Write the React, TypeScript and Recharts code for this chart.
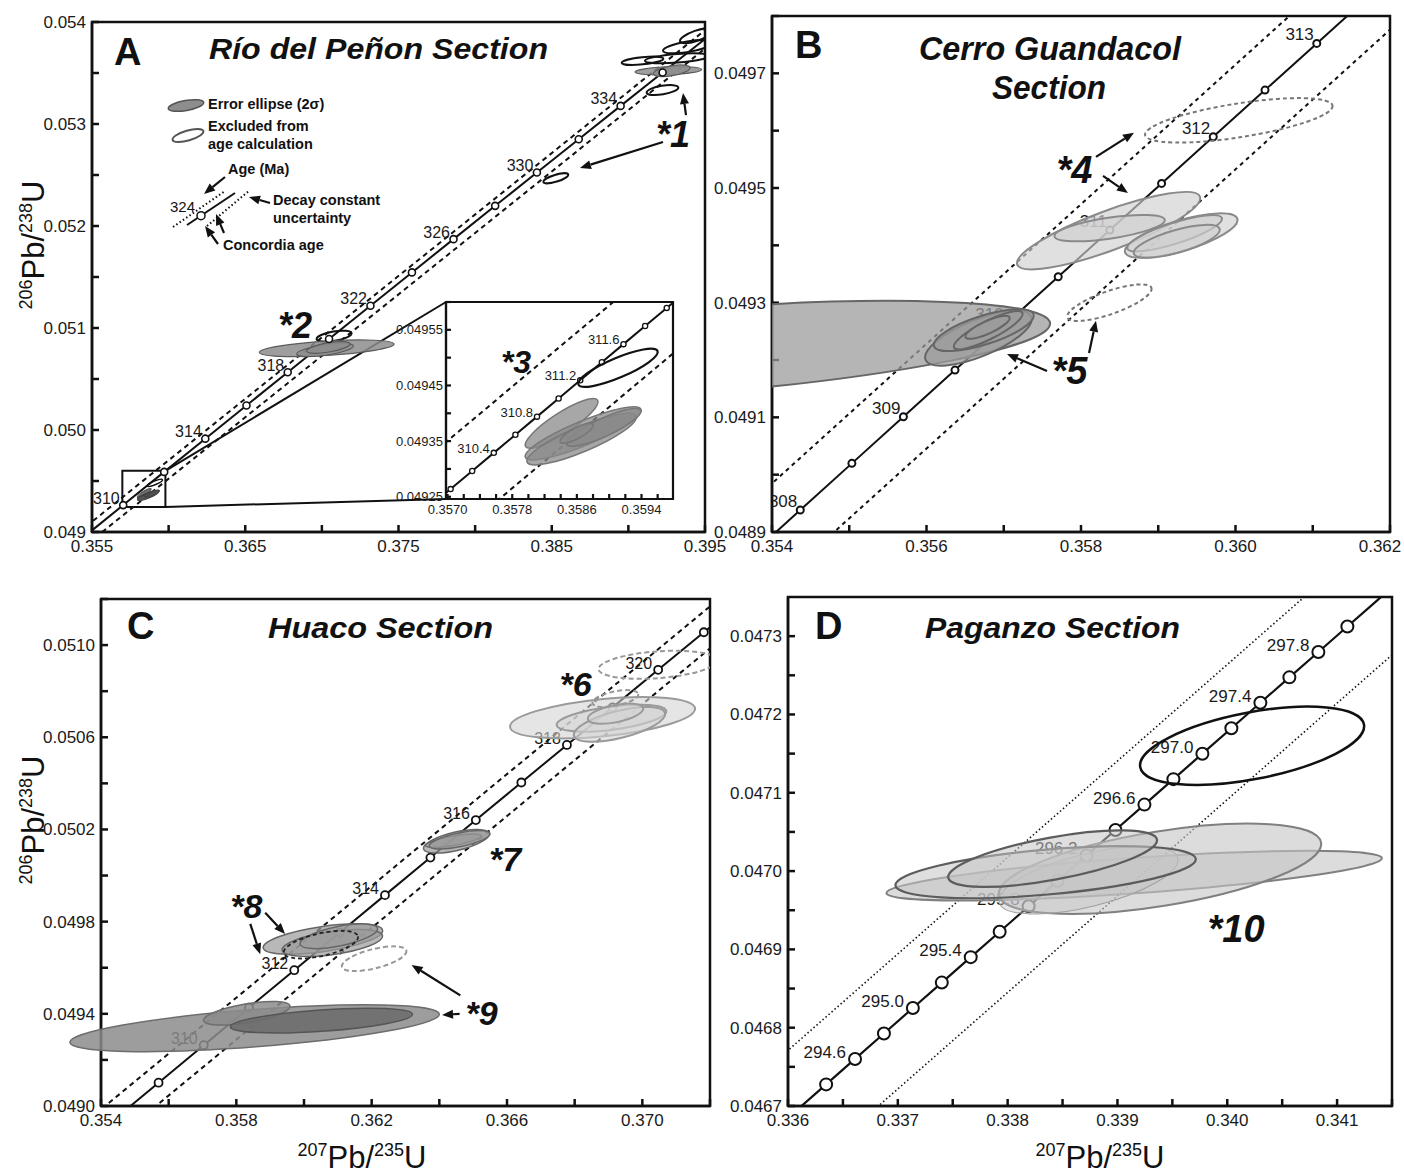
import React from "react";
import {
  ComposedChart,
  Line,
  Scatter,
  XAxis,
  YAxis,
  ReferenceArea,
  ReferenceLine,
  ReferenceDot,
} from "recharts";

const FONT = "'Liberation Sans', Arial, Helvetica, sans-serif";

type Pt = { age: number; x: number; y: number };
type Ell = { x: number; y: number; sx: number; sy: number; rho: number };
type Note = { x: number; y: number; text: string };
type Seg = { x1: number; y1: number; x2: number; y2: number };

// ---------------- Panel A: Río del Peñon ----------------
const aConcordia: Pt[] = [
  { age: 306, x: 0.351701, y: 0.0486129 },
  { age: 308, x: 0.354366, y: 0.0489383 },
  { age: 310, x: 0.357037, y: 0.0492638 },
  { age: 312, x: 0.359712, y: 0.0495894 },
  { age: 314, x: 0.362393, y: 0.049915 },
  { age: 316, x: 0.365079, y: 0.0502408 },
  { age: 318, x: 0.367771, y: 0.0505667 },
  { age: 320, x: 0.370468, y: 0.0508927 },
  { age: 322, x: 0.37317, y: 0.0512188 },
  { age: 324, x: 0.375877, y: 0.051545 },
  { age: 326, x: 0.37859, y: 0.0518713 },
  { age: 328, x: 0.381308, y: 0.0521977 },
  { age: 330, x: 0.384031, y: 0.0525242 },
  { age: 332, x: 0.38676, y: 0.0528508 },
  { age: 334, x: 0.389494, y: 0.0531775 },
  { age: 336, x: 0.392234, y: 0.0535043 },
  { age: 338, x: 0.394979, y: 0.0538312 },
  { age: 340, x: 0.397729, y: 0.0541582 },
];
const aMarkers = aConcordia.filter((p) => p.age >= 310 && p.age <= 336);
const aLabelAges = [310, 314, 318, 322, 326, 330, 334];
const aDecayLow = [
  { x: 0.350951, y: 0.0486129 },
  { x: 0.396979, y: 0.0541582 },
];
const aDecayHigh = [
  { x: 0.352451, y: 0.0486129 },
  { x: 0.398479, y: 0.0541582 },
];
const aIncluded: Ell[] = [
  { x: 0.392606, y: 0.053522, sx: 0.002175, sy: 0.0000412, rho: 0.3 },
  { x: 0.392825, y: 0.053522, sx: 0.001196, sy: 0.0000572, rho: 0.5 },
  { x: 0.370315, y: 0.050801, sx: 0.004394, sy: 0.0000817, rho: 0.5 },
  { x: 0.370204, y: 0.050784, sx: 0.001849, sy: 0.0000654, rho: 0.6 },
  { x: 0.370418, y: 0.050809, sx: 0.001414, sy: 0.0000572, rho: 0.6 },
];
const aExcluded: Ell[] = [
  { x: 0.390922, y: 0.05362, sx: 0.001359, sy: 0.0000412, rho: 0.5 },
  { x: 0.393205, y: 0.053644, sx: 0.002121, sy: 0.000049, rho: 0.5 },
  { x: 0.393891, y: 0.053758, sx: 0.001631, sy: 0.0000654, rho: 0.6 },
  { x: 0.394445, y: 0.053866, sx: 0.001077, sy: 0.0000735, rho: 0.7 },
  { x: 0.392227, y: 0.053333, sx: 0.001033, sy: 0.000049, rho: 0.5 },
  { x: 0.385265, y: 0.052468, sx: 0.000816, sy: 0.000049, rho: 0.7 },
  { x: 0.370796, y: 0.05092, sx: 0.001142, sy: 0.0000539, rho: 0.5 },
];
const aNotes: Note[] = [
  { x: 0.392912, y: 0.052775, text: "*1" },
  { x: 0.368246, y: 0.050902, text: "*2" },
];
const aArrows: Seg[] = [
  { x1: 0.392259, y1: 0.052824, x2: 0.386843, y2: 0.052569 },
  { x1: 0.39376, y1: 0.053088, x2: 0.393564, y2: 0.053304 },
];
const aZoomBox = { x1: 0.35698, x2: 0.35979, y1: 0.049246, y2: 0.0496 };
const aConnectors: Seg[] = [
  { x1: 0.35979, y1: 0.0496, x2: 0.3781, y2: 0.051255 },
  { x1: 0.35979, y1: 0.049246, x2: 0.3781, y2: 0.049324 },
];

// ---------------- Inset of panel A ----------------
const insetConcordia: Pt[] = [
  { age: 309.8, x: 0.3567696, y: 0.0492313 },
  { age: 310.0, x: 0.357037, y: 0.0492638 },
  { age: 310.2, x: 0.3573042, y: 0.0492964 },
  { age: 310.4, x: 0.3575716, y: 0.0493289 },
  { age: 310.6, x: 0.357839, y: 0.0493615 },
  { age: 310.8, x: 0.3581065, y: 0.049394 },
  { age: 311.0, x: 0.358374, y: 0.0494266 },
  { age: 311.2, x: 0.3586416, y: 0.0494592 },
  { age: 311.4, x: 0.3589092, y: 0.0494917 },
  { age: 311.6, x: 0.359177, y: 0.0495243 },
  { age: 311.8, x: 0.3594447, y: 0.0495568 },
  { age: 312.0, x: 0.3597125, y: 0.0495894 },
  { age: 312.2, x: 0.3599804, y: 0.0496219 },
];
const insetMarkers = insetConcordia.filter((p) => p.age >= 310 && p.age <= 312);
const insetLabelAges = [310.4, 310.8, 311.2, 311.6];
const insetDecayLow = [
  { x: 0.3560196, y: 0.0492313 },
  { x: 0.3592304, y: 0.0496219 },
];
const insetDecayHigh = [
  { x: 0.3575196, y: 0.0492313 },
  { x: 0.3607304, y: 0.0496219 },
];
const insetIncluded: Ell[] = [
  { x: 0.358411, y: 0.0493819, sx: 0.000451, sy: 0.0000447, rho: 0.87 },
  { x: 0.358678, y: 0.049364, sx: 0.000718, sy: 0.0000477, rho: 0.87 },
  { x: 0.358658, y: 0.0493535, sx: 0.000677, sy: 0.0000462, rho: 0.85 },
  { x: 0.358933, y: 0.0493747, sx: 0.00046, sy: 0.000034, rho: 0.85 },
  { x: 0.358596, y: 0.049364, sx: 0.000205, sy: 0.0000179, rho: 0.8 },
];
const insetExcluded: Ell[] = [
  { x: 0.359109, y: 0.0494818, sx: 0.000492, sy: 0.0000343, rho: 0.83 },
];
const insetNotes: Note[] = [{ x: 0.357847, y: 0.0494724, text: "*3" }];

// ---------------- Panel B: Cerro Guandacol ----------------
const bConcordia: Pt[] = [
  { age: 307.5, x: 0.3537, y: 0.0488569 },
  { age: 308, x: 0.354366, y: 0.0489383 },
  { age: 308.5, x: 0.355034, y: 0.0490197 },
  { age: 309, x: 0.355701, y: 0.049101 },
  { age: 309.5, x: 0.356369, y: 0.0491824 },
  { age: 310, x: 0.357037, y: 0.0492638 },
  { age: 310.5, x: 0.357705, y: 0.0493452 },
  { age: 311, x: 0.358374, y: 0.0494266 },
  { age: 311.5, x: 0.359043, y: 0.049508 },
  { age: 312, x: 0.359712, y: 0.0495894 },
  { age: 312.5, x: 0.360382, y: 0.0496708 },
  { age: 313, x: 0.361052, y: 0.0497522 },
  { age: 313.5, x: 0.361723, y: 0.0498336 },
];
const bMarkers = bConcordia.filter((p) => p.age >= 308 && p.age <= 313);
const bLabelAges = [308, 309, 310, 311, 312, 313];
const bDecayLow = [
  { x: 0.35295, y: 0.0488569 },
  { x: 0.360973, y: 0.0498336 },
];
const bDecayHigh = [
  { x: 0.35445, y: 0.0488569 },
  { x: 0.362473, y: 0.0498336 },
];
const bMedium: Ell[] = [
  { x: 0.353, y: 0.049215, sx: 0.0046, sy: 0.000088, rho: 0.55 },
  { x: 0.356672, y: 0.049238, sx: 0.00069, sy: 0.000048, rho: 0.7 },
  { x: 0.356741, y: 0.049252, sx: 0.000647, sy: 0.0000365, rho: 0.7 },
  { x: 0.356799, y: 0.049252, sx: 0.000445, sy: 0.0000333, rho: 0.85 },
  { x: 0.35679, y: 0.049257, sx: 0.000287, sy: 0.00002, rho: 0.8 },
];
const bLight: Ell[] = [
  { x: 0.358357, y: 0.0494255, sx: 0.001186, sy: 0.0000675, rho: 0.84 },
  { x: 0.358371, y: 0.04943, sx: 0.000714, sy: 0.000023, rho: 0.6 },
  { x: 0.359297, y: 0.049417, sx: 0.000729, sy: 0.0000388, rho: 0.7 },
  { x: 0.359211, y: 0.049421, sx: 0.000614, sy: 0.0000316, rho: 0.8 },
  { x: 0.35924, y: 0.049407, sx: 0.000557, sy: 0.0000287, rho: 0.7 },
];
const bExcluded: Ell[] = [
  { x: 0.360043, y: 0.049618, sx: 0.001214, sy: 0.0000388, rho: 0.64 },
  { x: 0.358368, y: 0.0493, sx: 0.000546, sy: 0.0000319, rho: 0.75 },
];
const bNotes: Note[] = [
  { x: 0.357916, y: 0.0495088, text: "*4" },
  { x: 0.357851, y: 0.0491579, text: "*5" },
];
const bArrows: Seg[] = [
  { x1: 0.358194, y1: 0.0495544, x2: 0.358686, y2: 0.0495965 },
  { x1: 0.358285, y1: 0.0495211, x2: 0.358608, y2: 0.0494912 },
  { x1: 0.35756, y1: 0.0491807, x2: 0.357042, y2: 0.0492105 },
  { x1: 0.358104, y1: 0.0492123, x2: 0.358194, y2: 0.0492684 },
];

// ---------------- Panel C: Huaco ----------------
const cConcordia: Pt[] = [
  { age: 308, x: 0.354366, y: 0.0489383 },
  { age: 309, x: 0.355701, y: 0.049101 },
  { age: 310, x: 0.357037, y: 0.0492638 },
  { age: 311, x: 0.358374, y: 0.0494266 },
  { age: 312, x: 0.359712, y: 0.0495894 },
  { age: 313, x: 0.361052, y: 0.0497522 },
  { age: 314, x: 0.362393, y: 0.049915 },
  { age: 315, x: 0.363736, y: 0.0500779 },
  { age: 316, x: 0.365079, y: 0.0502408 },
  { age: 317, x: 0.366424, y: 0.0504038 },
  { age: 318, x: 0.367771, y: 0.0505667 },
  { age: 319, x: 0.369119, y: 0.0507297 },
  { age: 320, x: 0.370468, y: 0.0508927 },
  { age: 321, x: 0.371818, y: 0.0510557 },
  { age: 322, x: 0.37317, y: 0.0512188 },
];
const cMarkers = cConcordia.filter((p) => p.age >= 309 && p.age <= 321);
const cLabelAges = [310, 312, 314, 316, 318, 320];
const cDecayLow = [
  { x: 0.353616, y: 0.0489383 },
  { x: 0.37242, y: 0.0512188 },
];
const cDecayHigh = [
  { x: 0.355116, y: 0.0489383 },
  { x: 0.37392, y: 0.0512188 },
];
// the wide ellipse runs past the left axis in the figure
const cWide: Ell[] = [
  { x: 0.35854, y: 0.0493375, sx: 0.00546, sy: 0.0001015, rho: 0.6 },
];
const cDark: Ell[] = [
  { x: 0.358309, y: 0.0494024, sx: 0.001279, sy: 0.0000512, rho: 0.6 },
];
const cInner: Ell[] = [
  { x: 0.360515, y: 0.0493707, sx: 0.002691, sy: 0.0000537, rho: 0.5 },
];
const cMid: Ell[] = [
  { x: 0.360559, y: 0.0497244, sx: 0.0017647, sy: 0.0000659, rho: 0.55 },
  { x: 0.360838, y: 0.0497073, sx: 0.001485, sy: 0.0000585, rho: 0.5 },
  { x: 0.361029, y: 0.0497366, sx: 0.001147, sy: 0.0000537, rho: 0.6 },
  { x: 0.3645, y: 0.0501488, sx: 0.00097, sy: 0.0000512, rho: 0.6 },
  { x: 0.364412, y: 0.050151, sx: 0.00082, sy: 0.000029, rho: 0.7 },
  { x: 0.3646, y: 0.050155, sx: 0.0009, sy: 0.00004, rho: 0.65 },
];
const cLight: Ell[] = [
  { x: 0.368824, y: 0.050685, sx: 0.002735, sy: 0.00009, rho: 0.43 },
  { x: 0.369088, y: 0.050683, sx: 0.00162, sy: 0.0000585, rho: 0.5 },
  { x: 0.369324, y: 0.050656, sx: 0.00135, sy: 0.0000756, rho: 0.6 },
  { x: 0.369206, y: 0.0507024, sx: 0.00082, sy: 0.000044, rho: 0.5 },
];
const cExcludedGray: Ell[] = [
  { x: 0.369206, y: 0.050768, sx: 0.00068, sy: 0.0000366, rho: 0.5 },
  { x: 0.370456, y: 0.0509146, sx: 0.00175, sy: 0.000061, rho: 0.3 },
  { x: 0.362074, y: 0.049639, sx: 0.000956, sy: 0.0000537, rho: 0.6 },
];
const cExcludedDark: Ell[] = [
  { x: 0.3605, y: 0.0497, sx: 0.0011, sy: 0.00006, rho: 0.55 },
];
const cNotes: Note[] = [
  { x: 0.368029, y: 0.0507805, text: "*6" },
  { x: 0.365941, y: 0.0500195, text: "*7" },
  { x: 0.358294, y: 0.0498146, text: "*8" },
  { x: 0.36525, y: 0.04935, text: "*9" },
];
const cArrows: Seg[] = [
  { x1: 0.358853, y1: 0.049839, x2: 0.359441, y2: 0.0497463 },
  { x1: 0.358412, y1: 0.0497902, x2: 0.358706, y2: 0.0496585 },
  { x1: 0.3646, y1: 0.0494, x2: 0.36408, y2: 0.049395 },
  { x1: 0.36462, y1: 0.04948, x2: 0.36318, y2: 0.049612 },
];

// ---------------- Panel D: Paganzo ----------------
const dConcordia: Pt[] = [
  { age: 294.2, x: 0.336084, y: 0.0466952 },
  { age: 294.4, x: 0.3363472, y: 0.0467276 },
  { age: 294.6, x: 0.3366105, y: 0.0467601 },
  { age: 294.8, x: 0.3368737, y: 0.0467926 },
  { age: 295.0, x: 0.337137, y: 0.0468251 },
  { age: 295.2, x: 0.3374005, y: 0.0468576 },
  { age: 295.4, x: 0.3376639, y: 0.0468901 },
  { age: 295.6, x: 0.3379274, y: 0.0469225 },
  { age: 295.8, x: 0.338191, y: 0.046955 },
  { age: 296.0, x: 0.3384546, y: 0.0469875 },
  { age: 296.2, x: 0.3387182, y: 0.04702 },
  { age: 296.4, x: 0.3389819, y: 0.0470525 },
  { age: 296.6, x: 0.3392456, y: 0.0470849 },
  { age: 296.8, x: 0.3395095, y: 0.0471174 },
  { age: 297.0, x: 0.3397734, y: 0.0471499 },
  { age: 297.2, x: 0.3400373, y: 0.0471824 },
  { age: 297.4, x: 0.3403014, y: 0.0472149 },
  { age: 297.6, x: 0.3405654, y: 0.0472474 },
  { age: 297.8, x: 0.3408294, y: 0.0472798 },
  { age: 298.0, x: 0.3410936, y: 0.0473123 },
  { age: 298.2, x: 0.3413578, y: 0.0473448 },
  { age: 298.4, x: 0.3416219, y: 0.0473773 },
];
const dMarkers = dConcordia.filter((p) => p.age >= 294.4 && p.age <= 298.0);
const dLabelAges = [294.6, 295.0, 295.4, 295.8, 296.2, 296.6, 297.0, 297.4, 297.8];
const dDecayLow = [
  { x: 0.335384, y: 0.0466952 },
  { x: 0.3409219, y: 0.0473773 },
];
const dDecayHigh = [
  { x: 0.336784, y: 0.0466952 },
  { x: 0.3423219, y: 0.0473773 },
];
const dBroad: Ell[] = [
  { x: 0.3391522, y: 0.0469942, sx: 0.0022554, sy: 0.0000317, rho: 0.7 },
  { x: 0.3393877, y: 0.0470029, sx: 0.0014674, sy: 0.0000577, rho: 0.55 },
];
const dInner: Ell[] = [
  { x: 0.3387355, y: 0.0469885, sx: 0.000815, sy: 0.0000433, rho: 0.6 },
];
const dOutlined: Ell[] = [
  { x: 0.338346, y: 0.0469986, sx: 0.0013678, sy: 0.0000332, rho: 0.5 },
  { x: 0.3384094, y: 0.0470159, sx: 0.000951, sy: 0.0000361, rho: 0.65 },
];
const dExcluded: Ell[] = [
  { x: 0.340226, y: 0.04716, sx: 0.00102, sy: 0.00005, rho: 0.5 },
];
const dNotes: Note[] = [{ x: 0.34008, y: 0.04691, text: "*10" }];

// ---------------- axes ----------------
const aXTicks = [0.355, 0.36, 0.365, 0.37, 0.375, 0.38, 0.385, 0.39, 0.395];
const aXLabels = [0.355, 0.365, 0.375, 0.385, 0.395];
const aYTicks = [0.049, 0.0495, 0.05, 0.0505, 0.051, 0.0515, 0.052, 0.0525, 0.053, 0.0535, 0.054];
const aYLabels = [0.049, 0.05, 0.051, 0.052, 0.053, 0.054];
const insetXTicks = [0.357, 0.3572, 0.3574, 0.3576, 0.3578, 0.358, 0.3582, 0.3584, 0.3586, 0.3588, 0.359, 0.3592, 0.3594, 0.3596];
const insetXLabels = [0.357, 0.3578, 0.3586, 0.3594];
const insetYTicks = [0.04925, 0.0493, 0.04935, 0.0494, 0.04945, 0.0495, 0.04955, 0.0496];
const insetYLabels = [0.04925, 0.04935, 0.04945, 0.04955];
const bXTicks = [0.354, 0.355, 0.356, 0.357, 0.358, 0.359, 0.36, 0.361, 0.362];
const bXLabels = [0.354, 0.356, 0.358, 0.36, 0.362];
const bYTicks = [0.0489, 0.049, 0.0491, 0.0492, 0.0493, 0.0494, 0.0495, 0.0496, 0.0497, 0.0498];
const bYLabels = [0.0489, 0.0491, 0.0493, 0.0495, 0.0497];
const cXTicks = [0.354, 0.356, 0.358, 0.36, 0.362, 0.364, 0.366, 0.368, 0.37, 0.372];
const cXLabels = [0.354, 0.358, 0.362, 0.366, 0.37];
const cYTicks = [0.049, 0.0492, 0.0494, 0.0496, 0.0498, 0.05, 0.0502, 0.0504, 0.0506, 0.0508, 0.051, 0.0512];
const cYLabels = [0.049, 0.0494, 0.0498, 0.0502, 0.0506, 0.051];
const dXTicks = [0.336, 0.3365, 0.337, 0.3375, 0.338, 0.3385, 0.339, 0.3395, 0.34, 0.3405, 0.341, 0.3415];
const dXLabels = [0.336, 0.337, 0.338, 0.339, 0.34, 0.341];
const dYTicks = [0.0467, 0.04675, 0.0468, 0.04685, 0.0469, 0.04695, 0.047, 0.04705, 0.0471, 0.04715, 0.0472, 0.04725, 0.0473];
const dYLabels = [0.0467, 0.0468, 0.0469, 0.047, 0.0471, 0.0472, 0.0473];

type Box = { L: number; T: number; R: number; B: number };
type Axis = { domain: [number, number]; ticks: number[]; labels: number[]; digits: number };
type K = { kx: number; ky: number };

const A_BOX: Box = { L: 92, T: 22, R: 705, B: 532 };
const IN_BOX: Box = { L: 446, T: 302, R: 673, B: 499 };
const B_BOX: Box = { L: 772, T: 16, R: 1390, B: 532 };
const C_BOX: Box = { L: 101, T: 599, R: 710, B: 1106 };
const D_BOX: Box = { L: 788, T: 597, R: 1392, B: 1106 };

const A_X: Axis = { domain: [0.355, 0.395], ticks: aXTicks, labels: aXLabels, digits: 3 };
const A_Y: Axis = { domain: [0.049, 0.054], ticks: aYTicks, labels: aYLabels, digits: 3 };
const IN_X: Axis = { domain: [0.35698, 0.35979], ticks: insetXTicks, labels: insetXLabels, digits: 4 };
const IN_Y: Axis = { domain: [0.049246, 0.0496], ticks: insetYTicks, labels: insetYLabels, digits: 5 };
const B_X: Axis = { domain: [0.354, 0.362], ticks: bXTicks, labels: bXLabels, digits: 3 };
const B_Y: Axis = { domain: [0.0489, 0.0498], ticks: bYTicks, labels: bYLabels, digits: 4 };
const C_X: Axis = { domain: [0.354, 0.372], ticks: cXTicks, labels: cXLabels, digits: 3 };
const C_Y: Axis = { domain: [0.049, 0.0512], ticks: cYTicks, labels: cYLabels, digits: 4 };
const D_X: Axis = { domain: [0.336, 0.3415], ticks: dXTicks, labels: dXLabels, digits: 3 };
const D_Y: Axis = { domain: [0.0467, 0.04735], ticks: dYTicks, labels: dYLabels, digits: 4 };

const kOf = (b: Box, x: Axis, y: Axis): K => ({
  kx: (b.R - b.L) / (x.domain[1] - x.domain[0]),
  ky: (b.B - b.T) / (y.domain[1] - y.domain[0]),
});
const A_K = kOf(A_BOX, A_X, A_Y);
const IN_K = kOf(IN_BOX, IN_X, IN_Y);
const B_K = kOf(B_BOX, B_X, B_Y);
const C_K = kOf(C_BOX, C_X, C_Y);
const D_K = kOf(D_BOX, D_X, D_Y);

const labelFmt = (labels: number[], digits: number) => (v: number) =>
  labels.some((l) => Math.abs(l - v) < 1e-9) ? v.toFixed(digits) : "";

// ---------------- shapes ----------------
const ellipseShape = (k: K, style: any) => (p: any) => {
  const { cx, cy, payload } = p;
  if (cx == null || cy == null || !payload) return <g />;
  const Sx = payload.sx * k.kx;
  const Sy = payload.sy * k.ky;
  const c = -payload.rho * Sx * Sy;
  const a = Sx * Sx;
  const d = Sy * Sy;
  const mid = (a + d) / 2;
  const diff = Math.sqrt(((a - d) / 2) ** 2 + c * c);
  const rx = Math.sqrt(mid + diff);
  const ry = Math.sqrt(Math.max(mid - diff, 0.3));
  const ang = (0.5 * Math.atan2(2 * c, a - d) * 180) / Math.PI;
  return (
    <ellipse cx={cx} cy={cy} rx={rx} ry={ry} transform={`rotate(${ang} ${cx} ${cy})`} {...style} />
  );
};

const arrowShape = (p: any) => {
  const { x1, y1, x2, y2 } = p;
  const ang = Math.atan2(y2 - y1, x2 - x1);
  const L = 11;
  const W = 4.5;
  const bx = x2 - L * Math.cos(ang);
  const by = y2 - L * Math.sin(ang);
  const pts = `${x2},${y2} ${bx + W * Math.sin(ang)},${by - W * Math.cos(ang)} ${bx - W * Math.sin(ang)},${by + W * Math.cos(ang)}`;
  return (
    <g>
      <line x1={x1} y1={y1} x2={bx} y2={by} stroke="#111" strokeWidth={2.2} />
      <polygon points={pts} fill="#111" />
    </g>
  );
};

const solidLine = (key: string, data: any[], w: number) => (
  <Line key={key} data={data} dataKey="y" type="linear" stroke="#111" strokeWidth={w}
    dot={false} activeDot={false} isAnimationActive={false} />
);
const dashLine = (key: string, data: any[], w: number, dash: string) => (
  <Line key={key} data={data} dataKey="y" type="linear" stroke="#111" strokeWidth={w}
    strokeDasharray={dash} dot={false} activeDot={false} isAnimationActive={false} />
);
const markers = (key: string, data: Pt[], r: number, sw: number) => (
  <Scatter key={key} data={data} isAnimationActive={false}
    shape={(p: any) => <circle cx={p.cx} cy={p.cy} r={r} fill="#fff" stroke="#111" strokeWidth={sw} />} />
);
const ageLabels = (key: string, data: Pt[], ages: number[], dx: number, dy: number, fs: number, digits: number) => (
  <Scatter key={key} data={data.filter((p) => ages.includes(p.age))} isAnimationActive={false}
    shape={(p: any) => (
      <text x={p.cx + dx} y={p.cy + dy} textAnchor="end" fontSize={fs} fill="#1a1a1a" fontFamily={FONT}>
        {p.payload.age.toFixed(digits)}
      </text>
    )} />
);
const ellipses = (key: string, data: Ell[], k: K, style: any) => (
  <Scatter key={key} data={data} isAnimationActive={false} shape={ellipseShape(k, style)} />
);
// unclipped ellipses (drawn past the frame as in the figure)
const freeEllipses = (key: string, data: Ell[], k: K, style: any) =>
  data.map((e, i) => (
    <ReferenceDot key={key + i} x={e.x} y={e.y} r={1} ifOverflow="visible"
      shape={(p: any) => ellipseShape(k, style)({ cx: p.cx, cy: p.cy, payload: e })} />
  ));
const notes = (key: string, data: Note[], fs: number) => (
  <Scatter key={key} data={data} isAnimationActive={false}
    shape={(p: any) => (
      <text x={p.cx} y={p.cy} textAnchor="middle" fontSize={fs} fontWeight="bold" fontStyle="italic"
        fill="#111" fontFamily={FONT}>
        {p.payload.text}
      </text>
    )} />
);
const arrows = (key: string, data: Seg[]) =>
  data.map((s, i) => (
    <ReferenceLine key={key + i} segment={[{ x: s.x1, y: s.y1 }, { x: s.x2, y: s.y2 }]}
      shape={arrowShape} ifOverflow="visible" />
  ));
const plainSegs = (key: string, data: Seg[]) =>
  data.map((s, i) => (
    <ReferenceLine key={key + i} segment={[{ x: s.x1, y: s.y1 }, { x: s.x2, y: s.y2 }]}
      stroke="#111" strokeWidth={2} ifOverflow="visible" />
  ));

type PanelProps = {
  box: Box; x: Axis; y: Axis; yw?: number; xh?: number; font?: number; tick?: number;
  gap?: number; xgap?: number; frame?: number; background?: boolean; lastShift?: number; mr?: number;
  children?: React.ReactNode;
};

function Panel({
  box, x, y, yw = 90, xh = 40, font = 17, tick = 7, gap = 6, xgap = 8, frame = 2.5,
  background = false, lastShift = 0, mr = 14, children,
}: PanelProps) {
  const mt = 10;
  const w = box.R - box.L + yw + mr;
  const h = box.B - box.T + mt + xh;
  const axisStyle = { stroke: "#111", strokeWidth: frame };
  const tickStyle = { fontSize: font, fill: "#1a1a1a", fontFamily: FONT };
  const xFmt = labelFmt(x.labels, x.digits);
  const lastLabel = x.labels[x.labels.length - 1];
  const xTick = (p: any) => {
    const v = p.payload.value;
    const s = xFmt(v);
    if (!s) return <g />;
    const dx = Math.abs(v - lastLabel) < 1e-9 ? lastShift : 0;
    return (
      <text x={p.x + dx} y={p.y} dy="0.71em" textAnchor="middle" fontSize={font} fill="#1a1a1a" fontFamily={FONT}>
        {s}
      </text>
    );
  };
  return (
    <div style={{ position: "absolute", left: box.L - yw, top: box.T - mt, width: w, height: h }}>
      <ComposedChart width={w} height={h} margin={{ top: mt, right: mr, bottom: 0, left: 0 }}>
        <XAxis type="number" dataKey="x" domain={x.domain} allowDataOverflow ticks={x.ticks} interval={0}
          height={xh} tickSize={-tick} tickMargin={tick + xgap}
          axisLine={axisStyle} tickLine={axisStyle} tick={xTick} />
        <YAxis type="number" dataKey="y" domain={y.domain} allowDataOverflow ticks={y.ticks} interval={0}
          tickFormatter={labelFmt(y.labels, y.digits)} width={yw} tickSize={-tick} tickMargin={tick + gap}
          axisLine={axisStyle} tickLine={axisStyle} tick={tickStyle} />
        {background && (
          <ReferenceArea x1={x.domain[0]} x2={x.domain[1]} y1={y.domain[0]} y2={y.domain[1]}
            fill="#fff" fillOpacity={1} stroke="none" />
        )}
        {children}
        <ReferenceArea x1={x.domain[0]} x2={x.domain[1]} y1={y.domain[0]} y2={y.domain[1]}
          fill="none" stroke="#111" strokeWidth={frame} />
      </ComposedChart>
    </div>
  );
}

const isoTitle = (x: number, y: number, rotate: boolean) => (
  <text x={x} y={y} textAnchor="middle" fontSize={31} fill="#111"
    transform={rotate ? `rotate(-90 ${x} ${y})` : undefined}>
    <tspan fontSize={18} dy={-12}>{rotate ? "206" : "207"}</tspan>
    <tspan dy={12}>Pb/</tspan>
    <tspan fontSize={18} dy={-12}>{rotate ? "238" : "235"}</tspan>
    <tspan dy={12}>U</tspan>
  </text>
);

function Overlay() {
  const bold = { fontWeight: "bold" as const, fill: "#111" };
  const title = { fontWeight: "bold" as const, fontStyle: "italic" as const, fill: "#111", lengthAdjust: "spacingAndGlyphs" };
  return (
    <svg width={1404} height={1174} fontFamily={FONT}
      style={{ position: "absolute", left: 0, top: 0, pointerEvents: "none" }}>
      <text x={114} y={65} fontSize={38} {...bold}>A</text>
      <text x={795} y={58} fontSize={38} {...bold}>B</text>
      <text x={127} y={639} fontSize={38} {...bold}>C</text>
      <text x={815} y={639} fontSize={38} {...bold}>D</text>
      <text x={209} y={59} fontSize={30} textLength={339} {...title}>Río del Peñon Section</text>
      <text x={919} y={60} fontSize={34} textLength={262} {...title}>Cerro Guandacol</text>
      <text x={992} y={99} fontSize={34} textLength={114} {...title}>Section</text>
      <text x={268} y={638} fontSize={30} textLength={225} {...title}>Huaco Section</text>
      <text x={925} y={638} fontSize={30} textLength={255} {...title}>Paganzo Section</text>

      {isoTitle(44, 245, true)}
      {isoTitle(44, 820, true)}
      {isoTitle(362, 1168, false)}
      {isoTitle(1100, 1168, false)}

      {/* legend of panel A */}
      <ellipse cx={186} cy={105.5} rx={18} ry={5} transform="rotate(-10 186 105.5)"
        fill="#8d8d8d" stroke="#555" strokeWidth={1.5} />
      <ellipse cx={188} cy={135.5} rx={16} ry={5} transform="rotate(-16 188 135.5)"
        fill="none" stroke="#555" strokeWidth={2} />
      <text x={208} y={109} fontSize={14.5} {...bold}>Error ellipse (2σ)</text>
      <text x={208} y={131} fontSize={14.5} {...bold}>Excluded from</text>
      <text x={208} y={149} fontSize={14.5} {...bold}>age calculation</text>
      <text x={228} y={174} fontSize={14.5} {...bold}>Age (Ma)</text>
      <text x={170} y={212} fontSize={15} fill="#111">324</text>
      <line x1={173} y1={227} x2={225} y2={191} stroke="#111" strokeWidth={2} strokeDasharray="1.5 2.5" />
      <line x1={187} y1={225} x2={235} y2={193} stroke="#111" strokeWidth={2} />
      <line x1={207} y1={226} x2={250} y2={190} stroke="#111" strokeWidth={2} strokeDasharray="1.5 2.5" />
      <circle cx={201} cy={215.7} r={4} fill="#fff" stroke="#111" strokeWidth={1.5} />
      <text x={273} y={205} fontSize={14.5} {...bold}>Decay constant</text>
      <text x={273} y={223} fontSize={14.5} {...bold}>uncertainty</text>
      <text x={223} y={250} fontSize={14.5} {...bold}>Concordia age</text>
      {arrowShape({ x1: 225, y1: 177, x2: 204, y2: 194 })}
      {arrowShape({ x1: 270, y1: 203, x2: 249, y2: 197 })}
      {arrowShape({ x1: 218, y1: 244, x2: 205, y2: 226 })}
      {arrowShape({ x1: 224, y1: 233, x2: 216, y2: 214 })}
    </svg>
  );
}

export default function App() {
  return (
    <div style={{ position: "absolute", left: 0, top: 0, width: 1404, height: 1174, background: "#fff", fontFamily: FONT }}>
      {/* Panel A */}
      <Panel box={A_BOX} x={A_X} y={A_Y} mr={30}>
        {dashLine("adl", aDecayLow, 2, "5 4")}
        {dashLine("adh", aDecayHigh, 2, "5 4")}
        {solidLine("acl", aConcordia, 2)}
        {ellipses("aex", aExcluded, A_K, { fill: "none", stroke: "#111", strokeWidth: 2 })}
        {ellipses("ain", aIncluded, A_K, { fill: "#8d8d8d", fillOpacity: 0.85, stroke: "#5a5a5a", strokeWidth: 1.2 })}
        {ellipses("aie", insetIncluded, A_K, { fill: "#555", fillOpacity: 0.85, stroke: "#444", strokeWidth: 1 })}
        {ellipses("aix", insetExcluded, A_K, { fill: "none", stroke: "#111", strokeWidth: 1.5 })}
        {markers("amk", aMarkers, 3.5, 1.6)}
        {ageLabels("alb", aMarkers, aLabelAges, -3.5, -1.5, 16, 0)}
        <ReferenceArea x1={aZoomBox.x1} x2={aZoomBox.x2} y1={aZoomBox.y1} y2={aZoomBox.y2}
          fill="none" stroke="#111" strokeWidth={2} />
        {plainSegs("acn", aConnectors)}
        {notes("ant", aNotes, 36)}
        {arrows("aar", aArrows)}
      </Panel>

      {/* Inset of panel A */}
      <Panel box={IN_BOX} x={IN_X} y={IN_Y} yw={60} xh={22} font={13} tick={5} gap={3} xgap={6} frame={2.2} background>
        {dashLine("idl", insetDecayLow, 2, "5 4")}
        {dashLine("idh", insetDecayHigh, 2, "5 4")}
        {solidLine("icl", insetConcordia, 2)}
        {markers("imk", insetMarkers, 2.6, 1.3)}
        {ageLabels("ilb", insetMarkers, insetLabelAges, -4, 0, 13, 1)}
        {ellipses("iin", insetIncluded, IN_K, { fill: "#8a8a8a", fillOpacity: 0.75, stroke: "#777", strokeWidth: 1.5 })}
        {ellipses("iex", insetExcluded, IN_K, { fill: "none", stroke: "#111", strokeWidth: 2.2 })}
        {notes("int", insetNotes, 32)}
      </Panel>

      {/* Panel B */}
      <Panel box={B_BOX} x={B_X} y={B_Y} lastShift={-10}>
        {dashLine("bdl", bDecayLow, 2, "4 4")}
        {dashLine("bdh", bDecayHigh, 2, "4 4")}
        {solidLine("bcl", bConcordia, 2)}
        {markers("bmk", bMarkers, 3.5, 2)}
        {ageLabels("blb", bMarkers, bLabelAges, -3, -3, 17, 0)}
        {ellipses("bmd", bMedium, B_K, { fill: "#9c9c9c", fillOpacity: 0.75, stroke: "#666", strokeWidth: 2 })}
        {ellipses("blt", bLight, B_K, { fill: "#cfcfcf", fillOpacity: 0.65, stroke: "#8a8a8a", strokeWidth: 2 })}
        {ellipses("bex", bExcluded, B_K, { fill: "none", stroke: "#777", strokeWidth: 2, strokeDasharray: "4 3" })}
        {notes("bnt", bNotes, 38)}
        {arrows("bar", bArrows)}
      </Panel>

      {/* Panel C */}
      <Panel box={C_BOX} x={C_X} y={C_Y}>
        {dashLine("cdl", cDecayLow, 2, "5 4")}
        {dashLine("cdh", cDecayHigh, 2, "5 4")}
        {solidLine("ccl", cConcordia, 2)}
        {markers("cmk", cMarkers, 4, 1.8)}
        {ageLabels("clb", cMarkers, cLabelAges, -6, -1, 16, 0)}
        {freeEllipses("cwd", cWide, C_K, { fill: "#8c8c8c", fillOpacity: 0.85, stroke: "#6d6d6d", strokeWidth: 1.5 })}
        {ellipses("cdk", cDark, C_K, { fill: "#8c8c8c", fillOpacity: 0.85, stroke: "#6d6d6d", strokeWidth: 1.5 })}
        {ellipses("cin", cInner, C_K, { fill: "#6b6b6b", fillOpacity: 0.85, stroke: "#555", strokeWidth: 1.5 })}
        {ellipses("cmd", cMid, C_K, { fill: "#9a9a9a", fillOpacity: 0.7, stroke: "#666", strokeWidth: 1.5 })}
        {ellipses("clt", cLight, C_K, { fill: "#d4d4d4", fillOpacity: 0.6, stroke: "#9a9a9a", strokeWidth: 2 })}
        {ellipses("cxg", cExcludedGray, C_K, { fill: "none", stroke: "#999", strokeWidth: 2, strokeDasharray: "5 3" })}
        {ellipses("cxd", cExcludedDark, C_K, { fill: "none", stroke: "#222", strokeWidth: 1.8, strokeDasharray: "4 3" })}
        {notes("cnt", cNotes, 34)}
        {arrows("car", cArrows)}
      </Panel>

      {/* Panel D */}
      <Panel box={D_BOX} x={D_X} y={D_Y}>
        {dashLine("ddl", dDecayLow, 1.6, "1.5 2.5")}
        {dashLine("ddh", dDecayHigh, 1.6, "1.5 2.5")}
        {solidLine("dcl", dConcordia, 2.2)}
        {markers("dmk", dMarkers, 6, 2)}
        {ageLabels("dlb", dMarkers, dLabelAges, -9, -1, 17, 1)}
        {ellipses("dbr", dBroad, D_K, { fill: "#c4c4c4", fillOpacity: 0.6, stroke: "#808080", strokeWidth: 2 })}
        {ellipses("din", dInner, D_K, { fill: "#c4c4c4", fillOpacity: 0.4, stroke: "#a0a0a0", strokeWidth: 1 })}
        {ellipses("dol", dOutlined, D_K, { fill: "#c4c4c4", fillOpacity: 0.55, stroke: "#5c5c5c", strokeWidth: 2.2 })}
        {ellipses("dex", dExcluded, D_K, { fill: "none", stroke: "#111", strokeWidth: 2.5 })}
        {notes("dnt", dNotes, 38)}
      </Panel>

      <Overlay />
    </div>
  );
}
